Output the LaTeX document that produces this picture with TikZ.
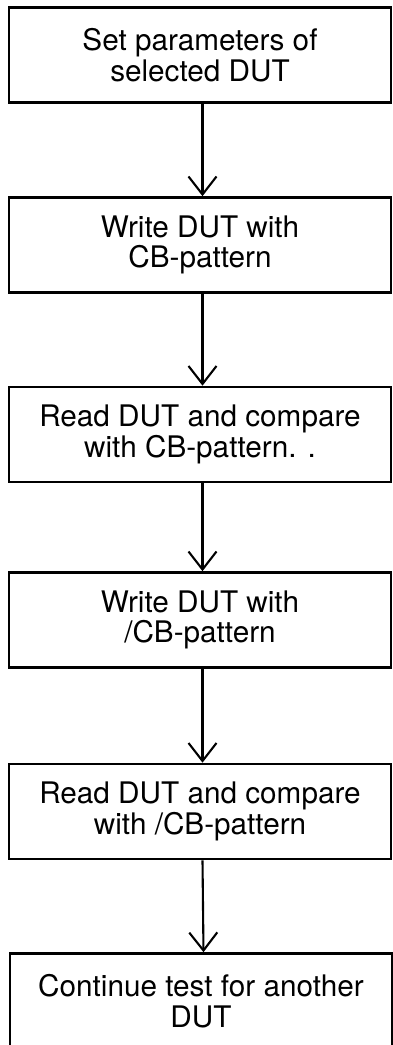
\documentclass[tikz,border=0pt]{standalone}
\usepackage{fontspec}
\setmainfont{TeX Gyre Heros}
\usetikzlibrary{arrows.meta}
\tikzset{
  stepbox/.style={draw=black, line width=2.6pt, minimum width=382pt, minimum height=95pt,
    inner sep=0pt, align=center, font=\fontsize{29.7}{30.5}\selectfont},
  flowarrow/.style={line width=2.1pt, -{Straight Barb[length=18pt,width=28pt,line width=2.1pt]}}
}
\begin{document}
\begin{tikzpicture}[x=1pt,y=-1pt]
\useasboundingbox (0,0) rectangle (392,1045);
\node[stepbox] (b1) at (200,55) {Set parameters of\\selected DUT};
\node[stepbox] (b2) at (200,245) {Write DUT with\\CB-pattern};
\node[stepbox] (b3) at (200,434.5) {Read DUT and compare\\with CB-pattern. .};
\node[stepbox] (b4) at (200,620) {Write DUT with\\/CB-pattern};
\node[stepbox] (b5) at (200,811.5) {Read DUT and compare\\with /CB-pattern};
\node[stepbox] (b6) at (201,1001) {Continue test for another\\DUT};
\foreach \a/\b in {b1/b2,b2/b3,b3/b4,b4/b5,b5/b6}
  \draw[flowarrow] ([xshift=2.5pt]\a.south) -- ([xshift=2.5pt]\b.north);
\end{tikzpicture}
\end{document}
